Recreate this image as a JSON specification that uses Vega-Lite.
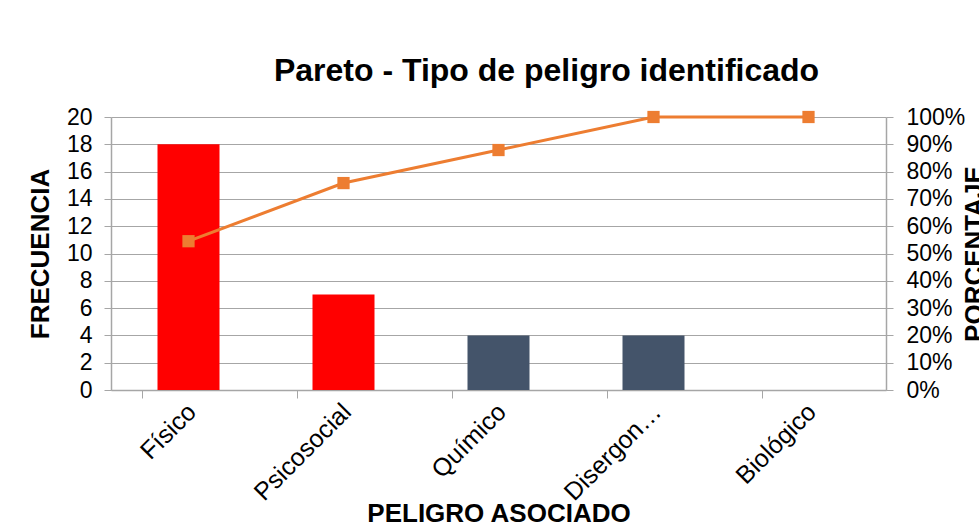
{
  "$schema": "https://vega.github.io/schema/vega-lite/v6.json",
  "width": 775,
  "height": 273,
  "autosize": {"type": "none"},
  "padding": {"left": 111, "top": 117, "right": 93, "bottom": 138},
  "background": "white",
  "config": {
    "font": "Liberation Sans",
    "view": {"stroke": null},
    "axis": {"labelFont": "Liberation Sans", "titleFont": "Liberation Sans", "labelColor": "#000000", "titleColor": "#000000", "domainColor": "#a6a6a6", "tickColor": "#a6a6a6", "gridColor": "#a6a6a6"}
  },
  "title": {
    "text": "Pareto - Tipo de peligro identificado",
    "fontSize": 32,
    "font": "Liberation Sans",
    "fontWeight": "bold",
    "color": "#000000",
    "anchor": "middle",
    "dx": 48,
    "offset": 18
  },
  "data": {
    "values": [
      {"peligro": "Físico", "frecuencia": 18, "porcentaje": 0.545},
      {"peligro": "Psicosocial", "frecuencia": 7, "porcentaje": 0.758},
      {"peligro": "Químico", "frecuencia": 4, "porcentaje": 0.879},
      {"peligro": "Disergonómico", "frecuencia": 4, "porcentaje": 1.0},
      {"peligro": "Biológico", "frecuencia": 0, "porcentaje": 1.0}
    ]
  },
  "encoding": {
    "x": {
      "field": "peligro",
      "type": "nominal",
      "sort": null,
      "scale": {"paddingInner": 0.6, "paddingOuter": 0.3},
      "axis": {
        "title": "PELIGRO ASOCIADO",
        "titleFontSize": 26,
        "titleFontWeight": "bold",
        "titleY": 110,
        "titleBaseline": "top",
        "labelAngle": -45,
        "labelAlign": "right",
        "labelBaseline": "top",
        "labelFontSize": 25,
        "labelPadding": 1,
        "labelExpr": "datum.label == 'Disergonómico' ? 'Disergon…' : datum.label",
        "tickOffset": -46.5,
        "labelOffset": 41,
        "tickSize": 8,
        "domainWidth": 1.5,
        "grid": false
      }
    }
  },
  "layer": [
    {
      "mark": {"type": "bar"},
      "encoding": {
        "y": {
          "field": "frecuencia",
          "type": "quantitative",
          "scale": {"domain": [0, 20]},
          "axis": {
            "title": "FRECUENCIA",
            "titleFontSize": 26,
            "titleFontWeight": "bold",
            "titlePadding": 13,
            "values": [0, 2, 4, 6, 8, 10, 12, 14, 16, 18, 20],
            "labelFontSize": 23,
            "labelPadding": 12,
            "tickSize": 7,
            "grid": true,
            "gridWidth": 1.2,
            "domainWidth": 1.5
          }
        },
        "color": {
          "condition": {"test": "datum.porcentaje <= 0.8", "value": "#FF0000"},
          "value": "#44546A"
        }
      }
    },
    {
      "mark": {"type": "line", "color": "#ED7D31", "strokeWidth": 3},
      "encoding": {
        "y": {
          "field": "porcentaje",
          "type": "quantitative",
          "scale": {"domain": [0, 1]},
          "axis": {
            "orient": "right",
            "title": "PORCENTAJE",
            "titleFontSize": 26,
            "titleFontWeight": "bold",
            "titleAngle": -90,
            "titlePadding": 23,
            "format": "%",
            "values": [0, 0.1, 0.2, 0.3, 0.4, 0.5, 0.6, 0.7, 0.8, 0.9, 1],
            "labelFontSize": 23,
            "labelPadding": 13,
            "tickSize": 7,
            "grid": false,
            "domainWidth": 1.5
          }
        }
      }
    },
    {
      "mark": {"type": "point", "shape": "square", "filled": true, "color": "#ED7D31", "size": 150, "opacity": 1},
      "encoding": {
        "y": {"field": "porcentaje", "type": "quantitative", "scale": {"domain": [0, 1]}, "axis": null}
      }
    }
  ],
  "resolve": {"scale": {"y": "independent"}}
}
